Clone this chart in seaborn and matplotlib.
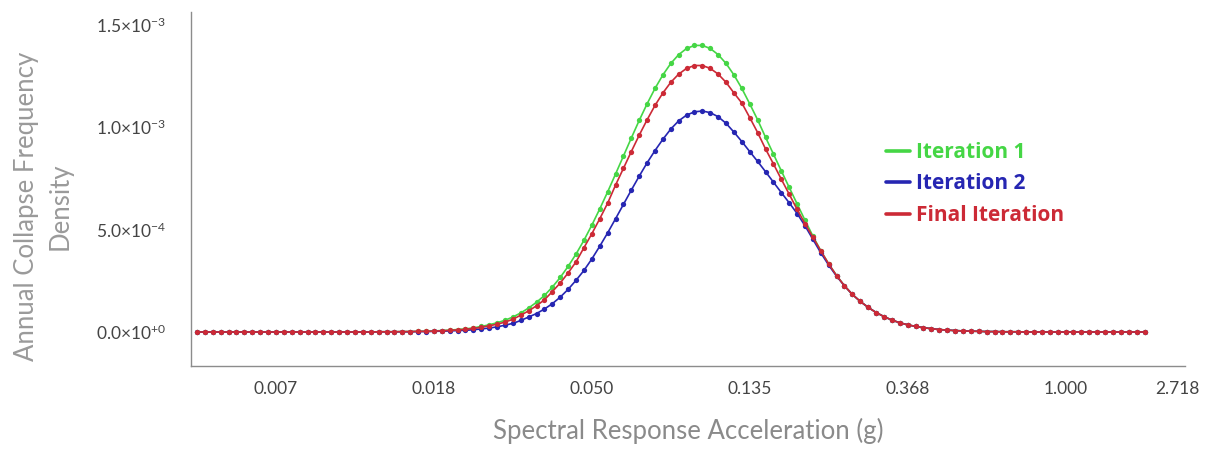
import numpy as np
import matplotlib
matplotlib.use("Agg")
import matplotlib.pyplot as plt
from matplotlib.lines import Line2D
import seaborn as sns

# Data (values in units of 1e-3), sampled on ln(Sa) from -5.5 to 0.5

ln_sa = np.linspace(-5.5, 0.5, 121)

iteration_1 = [0.0] * 23 + [
    0.001, 0.001, 0.001, 0.002, 0.002, 0.003, 0.004, 0.005, 0.007, 0.009,
    0.012, 0.015, 0.020, 0.027, 0.035, 0.045, 0.057, 0.073, 0.093, 0.117,
    0.145, 0.178, 0.219, 0.266, 0.320, 0.380, 0.447, 0.521, 0.600, 0.683,
    0.770, 0.858, 0.946, 1.032, 1.113, 1.188, 1.254, 1.310, 1.353, 1.383,
    1.398, 1.398, 1.383, 1.353, 1.310, 1.254, 1.188, 1.113, 1.035, 0.950,
    0.868, 0.786, 0.705, 0.625, 0.545, 0.468, 0.396, 0.332, 0.275, 0.225,
    0.183, 0.149, 0.120, 0.095, 0.075, 0.058, 0.045, 0.035, 0.027, 0.021,
    0.016, 0.012, 0.009, 0.007, 0.005, 0.004, 0.003, 0.002, 0.002, 0.001,
    0.001, 0.001] + [0.0] * 16

iteration_2 = [0.0] * 23 + [
    0.001, 0.001, 0.001, 0.001, 0.001, 0.002, 0.002, 0.003, 0.004, 0.005,
    0.007, 0.008, 0.011, 0.015, 0.019, 0.025, 0.033, 0.042, 0.056, 0.073,
    0.090, 0.112, 0.138, 0.170, 0.208, 0.252, 0.300, 0.356, 0.418, 0.483,
    0.552, 0.622, 0.692, 0.760, 0.825, 0.885, 0.940, 0.990, 1.030, 1.058,
    1.074, 1.078, 1.070, 1.050, 1.018, 0.975, 0.929, 0.880, 0.832, 0.782,
    0.731, 0.680, 0.630, 0.578, 0.518, 0.452, 0.386, 0.326, 0.272, 0.225,
    0.183, 0.149, 0.120, 0.095, 0.075, 0.058, 0.045, 0.035, 0.027, 0.021,
    0.016, 0.012, 0.009, 0.007, 0.005, 0.004, 0.003, 0.002, 0.002, 0.001,
    0.001, 0.001] + [0.0] * 16

final_iteration = [0.0] * 23 + [
    0.001, 0.001, 0.001, 0.002, 0.002, 0.003, 0.003, 0.004, 0.006, 0.008,
    0.010, 0.013, 0.017, 0.023, 0.030, 0.038, 0.048, 0.062, 0.082, 0.103,
    0.128, 0.157, 0.197, 0.239, 0.288, 0.342, 0.411, 0.479, 0.552, 0.628,
    0.716, 0.798, 0.880, 0.960, 1.035, 1.105, 1.166, 1.218, 1.258, 1.286,
    1.300, 1.300, 1.286, 1.258, 1.218, 1.166, 1.117, 1.046, 0.973, 0.893,
    0.820, 0.745, 0.672, 0.598, 0.528, 0.462, 0.396, 0.332, 0.275, 0.225,
    0.183, 0.149, 0.120, 0.095, 0.075, 0.058, 0.045, 0.035, 0.027, 0.021,
    0.016, 0.012, 0.009, 0.007, 0.005, 0.004, 0.003, 0.002, 0.002, 0.001,
    0.001, 0.001] + [0.0] * 16

series_names = ["Iteration 1", "Iteration 2", "Final Iteration"]
series_colors = ["#45d645", "#2626b2", "#cc2a36"]

x_tick_labels = ["0.007", "0.018", "0.050", "0.135", "0.368", "1.000", "2.718"]
y_tick_labels = [r"$\mathregular{0.0{\times}10^{+0}}$",
                 r"$\mathregular{5.0{\times}10^{-4}}$",
                 r"$\mathregular{1.0{\times}10^{-3}}$",
                 r"$\mathregular{1.5{\times}10^{-3}}$"]

# Style

sns.set_style("white")
plt.rcParams["font.family"] = ["Lato", "DejaVu Sans"]
plt.rcParams["mathtext.fontset"] = "custom"
plt.rcParams["mathtext.rm"] = "Lato"

fig = plt.figure(figsize=(12.05, 4.55), dpi=100)
ax = fig.add_axes([0.1585, 0.1956, 0.8245, 0.778])

# Plot

for vals, name, col in zip([iteration_1, iteration_2, final_iteration], series_names, series_colors):
    sns.lineplot(x=ln_sa, y=np.array(vals) * 1e-3, color=col, linewidth=1.2,
                 marker="o", markersize=3.8, markeredgewidth=0, ax=ax)

ax.set_xlim(-5.538, 0.753)
ax.set_ylim(-0.166e-3, 1.561e-3)

ax.set_xticks([-5, -4, -3, -2, -1, 0, 0.71])
ax.set_xticklabels(x_tick_labels)
ax.set_yticks([0, 0.5e-3, 1.0e-3, 1.5e-3])
ax.set_yticklabels(y_tick_labels)
ax.tick_params(axis="x", length=0, pad=11, labelsize=12.5, labelcolor="#444444")
ax.tick_params(axis="y", length=0, pad=18, labelsize=12.5, labelcolor="#444444")

ax.set_xlabel("Spectral Response Acceleration (g)", fontsize=18.5, color="#8a8a8a", labelpad=15)
ax.set_ylabel("Annual Collapse Frequency\nDensity", fontsize=18.5, color="#9a9a9a",
              linespacing=1.45)
ax.yaxis.set_label_coords(-0.1187, 0.452)

sns.despine(ax=ax)
for s in ["left", "bottom"]:
    ax.spines[s].set_color("#8c8c8c")
    ax.spines[s].set_linewidth(1.0)

handles = [Line2D([], [], color=c, linewidth=2.6) for c in series_colors]
ax.legend(handles, series_names, loc="upper left", bbox_to_anchor=(886 / 1205, 1 - 142 / 455),
          bbox_transform=fig.transFigure, frameon=False, handlelength=1.15, handletextpad=0.3,
          labelspacing=0.5, borderpad=0, borderaxespad=0, labelcolor="linecolor",
          prop={"family": "Open Sans", "weight": "bold", "size": 15})

fig.savefig("out.png", dpi=100)
